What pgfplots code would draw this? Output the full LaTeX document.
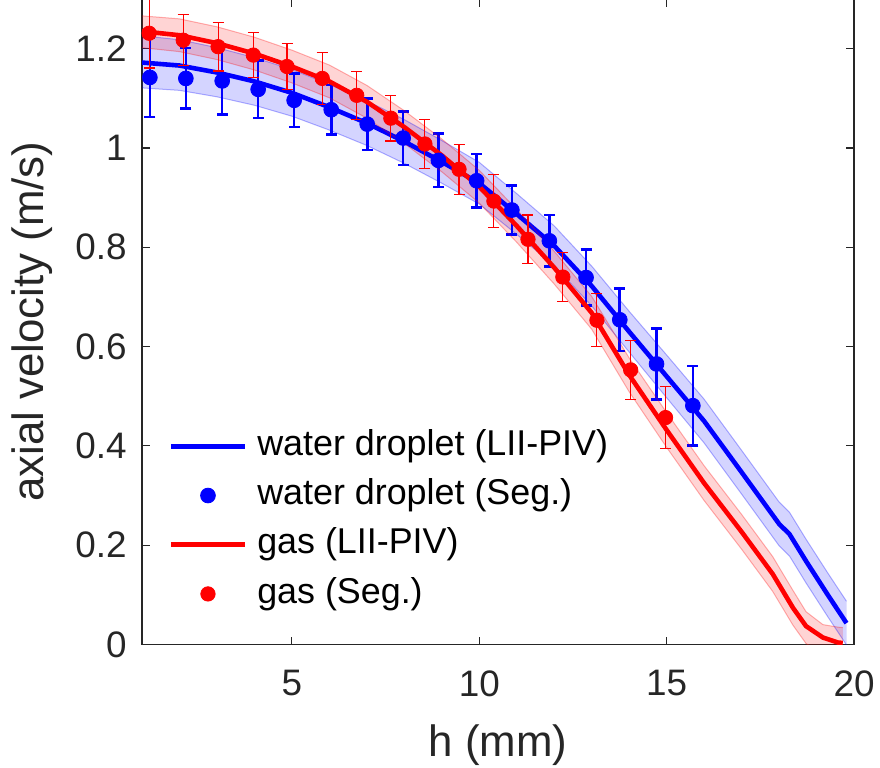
\documentclass[border=0pt]{standalone}
\usepackage{fontspec}
\setmainfont{Liberation Sans}
\usepackage{pgfplots}
\usepgfplotslibrary{fillbetween}
\pgfplotsset{compat=1.18}
\definecolor{axgray}{HTML}{262626}
\definecolor{mblue}{RGB}{0,0,255}
\definecolor{mred}{RGB}{255,0,0}

% LII-PIV profiles: x, mean, lower and upper band edge
\pgfplotstableread{
x y lo hi
1 1.172 1.121 1.226
2 1.166 1.116 1.218
3 1.152 1.103 1.202
4 1.134 1.086 1.182
5 1.111 1.064 1.158
6 1.082 1.036 1.128
7 1.050 1.005 1.095
8 1.013 0.969 1.057
9 0.972 0.929 1.015
10 0.929 0.887 0.971
11 0.867 0.826 0.908
12 0.803 0.763 0.843
13 0.722 0.682 0.762
14 0.630 0.589 0.671
15 0.540 0.497 0.583
16 0.450 0.406 0.494
17 0.347 0.303 0.391
18 0.243 0.199 0.287
18.28 0.222 0.178 0.266
18.72 0.168 0.124 0.212
19.3 0.100 0.056 0.144
19.8 0.043 -0.001 0.087
}\bluepiv
\pgfplotstableread{
x y lo hi
1 1.235 1.202 1.266
2 1.227 1.194 1.260
3 1.211 1.178 1.244
4 1.190 1.157 1.223
5 1.164 1.131 1.197
6 1.134 1.101 1.167
7 1.093 1.060 1.126
8 1.042 1.009 1.075
9 0.985 0.952 1.018
10 0.922 0.889 0.955
11 0.843 0.810 0.876
12 0.759 0.726 0.792
13 0.668 0.635 0.701
14 0.543 0.509 0.577
15 0.432 0.397 0.467
16 0.325 0.290 0.360
17 0.227 0.192 0.262
17.83 0.142 0.107 0.177
18.37 0.074 0.039 0.109
18.72 0.037 0.002 0.066
19.17 0.014 -0.021 0.040
19.57 0.004 -0.031 0.035
19.7 0.003 -0.032 0.034
}\redpiv
% segmentation results: x, mean, half error
\pgfplotstableread{
x y e
1.21 1.142 0.080
2.17 1.140 0.061
3.14 1.135 0.068
4.10 1.118 0.058
5.06 1.096 0.054
6.05 1.077 0.050
7.01 1.048 0.052
7.97 1.020 0.054
8.91 0.975 0.054
9.93 0.934 0.054
10.87 0.875 0.049
11.87 0.813 0.052
12.85 0.739 0.056
13.75 0.654 0.063
14.73 0.565 0.072
15.70 0.481 0.080
}\blueseg
\pgfplotstableread{
x y e
1.19 1.231 0.070
2.10 1.217 0.051
3.03 1.204 0.049
3.97 1.187 0.045
4.87 1.164 0.046
5.81 1.140 0.053
6.73 1.106 0.048
7.64 1.060 0.046
8.55 1.008 0.050
9.46 0.957 0.050
10.39 0.893 0.053
11.30 0.816 0.049
12.23 0.740 0.050
13.14 0.653 0.053
14.04 0.553 0.059
14.97 0.457 0.063
}\redseg

\pgfplotsset{
  lineleg/.style={legend image code/.code={
    \draw[##1, mark=none] (0bp,0bp) -- (37bp,0bp);}},
  dotleg/.style={legend image code/.code={
    \path[draw=none, fill=none] (0bp,0bp) (37bp,0bp);
    \draw[##1] plot coordinates {(18.5bp,0bp)};}},
}

\begin{document}
\begin{tikzpicture}
\begin{axis}[
  name=ax,
  scale only axis,
  width=356bp, height=322.75bp,
  xmin=1, xmax=20, ymin=0, ymax=1.3,
  xtick={5,10,15,20},
  ytick={0,0.2,0.4,0.6,0.8,1,1.2},
  tick align=inside,
  major tick length=3.85bp,
  axis line style={axgray, line width=0.55bp},
  tick style={axgray, line width=0.55bp},
  /pgf/number format/assume math mode=true,
  tick label style={font=\fontsize{18.5}{22}\selectfont, text=axgray, inner sep=0pt},
  xticklabel shift=12.7bp,
  yticklabel shift=7.5bp,
  label style={font=\fontsize{22}{26}\selectfont, text=axgray, inner sep=0pt},
  xlabel={h (mm)},
  ylabel={axial velocity (m/s)},
  xlabel style={at={(axis description cs:0.5,-0.123)}, anchor=north},
  ylabel style={at={(axis description cs:-0.125,0.5)}, anchor=south},
  legend style={at={(0.0369,0.3335)}, anchor=north west, draw=none, fill=none,
    inner sep=0pt, column sep=5bp, row sep=7.9bp,
    font=\fontsize{18}{21.6}\selectfont, text=black,
    nodes={inner sep=0pt, text height=12.9bp, text depth=3.8bp}},
  legend cell align=left,
]
% water droplet band
\addplot[name path=bhi, draw=mblue, draw opacity=0.3, line width=0.5bp, forget plot]
  table[x=x, y=hi] {\bluepiv};
\addplot[name path=blo, draw=mblue, draw opacity=0.3, line width=0.5bp, forget plot]
  table[x=x, y=lo] {\bluepiv};
\addplot[fill=mblue, fill opacity=0.17, draw=none, forget plot] fill between[of=bhi and blo];
\addplot[mblue, line width=2.3bp, lineleg] table[x=x, y=y] {\bluepiv};
\addlegendentry{water droplet (LII-PIV)}
\addplot[mblue, only marks, mark=*, mark size=3.7bp, dotleg,
  error bars/.cd, y dir=both, y explicit,
  error bar style={mblue, line width=1.3bp},
  error mark options={rotate=90, mblue, mark size=2.75bp, line width=1.3bp}]
  table[x=x, y=y, y error=e] {\blueseg};
\addlegendentry{water droplet (Seg.)}
% gas band
\addplot[name path=rhi, draw=mred, draw opacity=0.3, line width=0.5bp, forget plot]
  table[x=x, y=hi] {\redpiv};
\addplot[name path=rlo, draw=mred, draw opacity=0.3, line width=0.5bp, forget plot]
  table[x=x, y=lo] {\redpiv};
\addplot[fill=mred, fill opacity=0.17, draw=none, forget plot] fill between[of=rhi and rlo];
\addplot[mred, line width=2.3bp, lineleg] table[x=x, y=y] {\redpiv};
\addlegendentry{gas (LII-PIV)}
\addplot[mred, only marks, mark=*, mark size=3.6bp, dotleg,
  error bars/.cd, y dir=both, y explicit,
  error bar style={mred, line width=0.55bp},
  error mark options={rotate=90, mred, mark size=2.75bp, line width=0.55bp}]
  table[x=x, y=y, y error=e] {\redseg};
\addlegendentry{gas (Seg.)}
\end{axis}
\pgfresetboundingbox
\path[use as bounding box] ([xshift=-71bp, yshift=-61.7bp]ax.south west)
  rectangle ([xshift=13bp, yshift=-0.5bp]ax.north east);
\end{tikzpicture}
\end{document}
